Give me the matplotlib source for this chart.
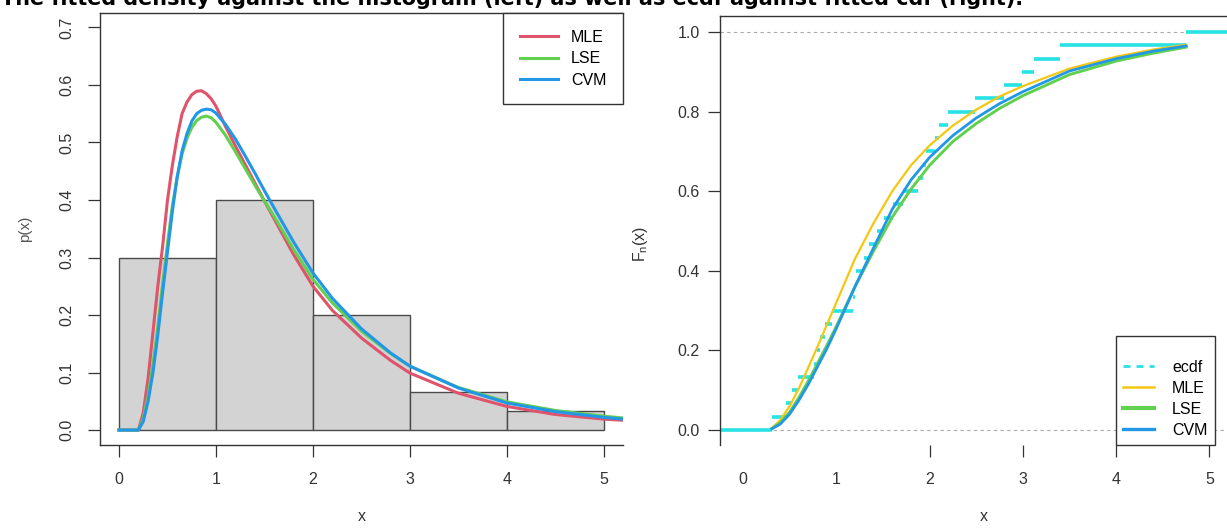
import numpy as np
import matplotlib
matplotlib.use('Agg')
import matplotlib.pyplot as plt
from matplotlib.lines import Line2D

W, H = 1227, 530

# observed sample, n = 30
sample = [0.31, 0.46, 0.52, 0.59, 0.76, 0.79, 0.82, 0.88, 0.95,
          1.18, 1.20, 1.21, 1.30, 1.35, 1.44, 1.51, 1.61, 1.72, 1.88, 1.93, 1.96,
          2.06, 2.10, 2.20, 2.49, 2.80, 2.99,
          3.12, 3.40, 4.75]
hist_bins = [0, 1, 2, 3, 4, 5]

# fitted densities
dens_x = [0.0, 0.2, 0.25, 0.3, 0.35, 0.4, 0.45, 0.5, 0.55, 0.6, 0.65, 0.7, 0.75,
          0.8, 0.85, 0.9, 0.95, 1.0, 1.1, 1.2, 1.3, 1.4, 1.5, 1.6, 1.8, 2.0,
          2.2, 2.5, 2.8, 3.0, 3.5, 4.0, 4.5, 5.0, 5.2]
dens_mle = [0, 0, 0.03, 0.09, 0.17, 0.25, 0.32, 0.40, 0.46, 0.51, 0.55, 0.57, 0.583,
            0.589, 0.590, 0.585, 0.576, 0.563, 0.527, 0.494, 0.462, 0.430, 0.398, 0.367,
            0.305, 0.250, 0.208, 0.160, 0.121, 0.099, 0.064, 0.041, 0.027, 0.019, 0.017]
dens_lse = [0, 0, 0.02, 0.06, 0.115, 0.18, 0.255, 0.325, 0.39, 0.44, 0.48, 0.507, 0.526,
            0.538, 0.544, 0.546, 0.543, 0.535, 0.512, 0.484, 0.455, 0.426, 0.398, 0.371,
            0.314, 0.262, 0.221, 0.172, 0.133, 0.111, 0.074, 0.049, 0.034, 0.024, 0.021]
dens_cvm = [0, 0, 0.015, 0.05, 0.10, 0.165, 0.24, 0.31, 0.38, 0.44, 0.485, 0.515, 0.537,
            0.55, 0.556, 0.558, 0.557, 0.551, 0.531, 0.506, 0.477, 0.447, 0.416, 0.386,
            0.327, 0.273, 0.229, 0.176, 0.134, 0.111, 0.073, 0.047, 0.032, 0.022, 0.019]

# fitted cdfs over the data range
cdf_x = [0.31, 0.4, 0.5, 0.6, 0.7, 0.8, 0.9, 1.0, 1.2, 1.4, 1.6, 1.8, 2.0, 2.25,
         2.5, 2.75, 3.0, 3.5, 4.0, 4.4, 4.75]
cdf_mle = [0.005, 0.025, 0.06, 0.105, 0.157, 0.21, 0.265, 0.32, 0.43, 0.52, 0.60,
           0.665, 0.715, 0.765, 0.805, 0.838, 0.864, 0.908, 0.938, 0.956, 0.968]
cdf_lse = [0.004, 0.018, 0.045, 0.082, 0.123, 0.168, 0.213, 0.26, 0.36, 0.45, 0.535,
           0.605, 0.665, 0.725, 0.77, 0.808, 0.84, 0.893, 0.927, 0.947, 0.962]
cdf_cvm = [0.003, 0.015, 0.04, 0.075, 0.115, 0.16, 0.205, 0.255, 0.36, 0.458, 0.555,
           0.628, 0.685, 0.74, 0.784, 0.82, 0.85, 0.902, 0.933, 0.952, 0.965]

methods = ['MLE', 'LSE', 'CVM']
title = ('The fitted density against the histogram (left) as well as '
         'ecdf against fitted cdf (right).')

red, green, blue = '#DF536B', '#61D04F', '#2297E6'
cyan, yellow = '#28E2E5', '#F5C710'
ink = '#333333'

plt.rcParams['font.family'] = ['Liberation Sans', 'DejaVu Sans']
plt.rcParams['mathtext.fontset'] = 'custom'
plt.rcParams['mathtext.rm'] = 'Liberation Sans'
plt.rcParams['mathtext.it'] = 'Liberation Sans'

fig = plt.figure(figsize=(W / 100, H / 100), dpi=100)


def px_axes(x0, x1, ytop, ybot):
    return fig.add_axes([x0 / W, 1 - ybot / H, (x1 - x0) / W, (ybot - ytop) / H])


# ---- left: histogram with fitted densities
ax1 = px_axes(99.6, 623.4, 13.1, 445)
ax1.hist(sample, bins=hist_bins, density=True, color='#D3D3D3',
         edgecolor='#4a4a4a', linewidth=1.0)
for dens, col, lab in zip([dens_mle, dens_lse, dens_cvm], [red, green, blue], methods):
    ax1.plot(dens_x, dens, color=col, lw=2.2, label=lab)
ax1.set_xlim(-0.2, 5.2)
ax1.set_ylim(-0.026, 0.725)
ax1.spines['right'].set_visible(False)
for s in ['top', 'left', 'bottom']:
    ax1.spines[s].set_color(ink)
    ax1.spines[s].set_linewidth(1.0)
ax1.set_xticks(range(6))
yt = np.arange(0, 0.71, 0.1)
ax1.set_yticks(yt)
ax1.set_yticklabels(['%.1f' % v for v in yt], rotation=90, va='center')
ax1.tick_params(direction='out', length=8.6, width=0.9, color=ink,
                labelsize=11.5, labelcolor=ink)
ax1.tick_params(axis='x', pad=10.8)
ax1.tick_params(axis='y', pad=9.4)
ax1.set_xlabel('x', fontsize=11.5, color=ink)
ax1.set_ylabel('p(x)', fontsize=11, color='#555555')
ax1.xaxis.set_label_coords(0.5, -0.148)
ax1.yaxis.set_label_coords(-0.129, 0.5)
leg1 = ax1.legend(loc='upper right', bbox_to_anchor=(1, 1), borderaxespad=0,
                  fancybox=False, edgecolor=ink, framealpha=1, borderpad=1.05,
                  labelspacing=0.4, handlelength=2.35, handletextpad=0.85,
                  fontsize=11.5)
leg1.get_frame().set_linewidth(1.0)

# ---- right: ecdf with fitted cdfs
ax2 = px_axes(720, 1246.8, 16, 445)
x0, x1 = -0.2465, 5.4
ax2.set_xlim(x0, x1)
ax2.set_ylim(-0.0377, 1.0402)
for yv in (0, 1):
    ax2.axhline(yv, color='#aaaaaa', lw=0.8, ls=(0, (3, 3)), zorder=0.5)

xs = np.sort(sample)
n = len(xs)
starts = np.concatenate([[x0], xs])
ends = np.concatenate([xs, [x1]])
heights = np.arange(n + 1) / n
ax2.hlines(heights, starts, ends, colors=cyan, lw=2.6, zorder=1)

ax2.plot(cdf_x, cdf_mle, color=yellow, lw=1.6, zorder=2)
ax2.plot(cdf_x, cdf_lse, color=green, lw=2.1, zorder=2)
ax2.plot(cdf_x, cdf_cvm, color=blue, lw=2.0, zorder=2)

ax2.spines['right'].set_visible(False)
ax2.spines['bottom'].set_visible(False)
for s in ['top', 'left']:
    ax2.spines[s].set_color(ink)
    ax2.spines[s].set_linewidth(1.0)
ax2.set_xticks(range(6))
ax2.set_yticks(np.arange(0, 1.01, 0.2))
ax2.yaxis.set_major_formatter(plt.FormatStrFormatter('%.1f'))
ax2.tick_params(direction='out', length=8.6, width=0.9, color=ink,
                labelsize=11.5, labelcolor=ink)
ax2.tick_params(axis='x', pad=10.8)
ax2.tick_params(axis='y', pad=5.8)
for t in ax2.xaxis.get_major_ticks()[:2]:
    t.tick1line.set_visible(False)
ax2.set_xlabel('x', fontsize=11.5, color=ink)
ax2.set_ylabel(r'F$_\mathregular{n}$(x)', fontsize=11.5, color=ink)
ax2.xaxis.set_label_coords(0.5, -0.149)
ax2.yaxis.set_label_coords(-0.133, 0.47)

handles = [Line2D([], [], color=cyan, lw=2.0, ls=(0, (2.5, 2.2))),
           Line2D([], [], color=yellow, lw=1.8),
           Line2D([], [], color=green, lw=3.0),
           Line2D([], [], color=blue, lw=2.4)]
leg2 = ax2.legend(handles, ['ecdf'] + methods, loc='lower left',
                  bbox_to_anchor=(4.0, 0), bbox_transform=ax2.get_xaxis_transform(),
                  borderaxespad=0, fancybox=False, edgecolor=ink, framealpha=1,
                  borderpad=0.45, labelspacing=0.38, handlelength=1.9,
                  handletextpad=1.15, fontsize=11.5, title=' ', title_fontsize=8)
leg2.get_frame().set_linewidth(1.0)

# title sits mostly above the canvas, only its lower part shows
ttl = fig.text(1 / W, 1 - 5 / H, title, fontsize=14, fontweight='bold',
               family='DejaVu Sans', ha='left', va='baseline')
fig.canvas.draw()
w = ttl.get_window_extent().width
ttl.set_fontsize(14 * 1022 / w)

fig.savefig('out.png', dpi=100)
